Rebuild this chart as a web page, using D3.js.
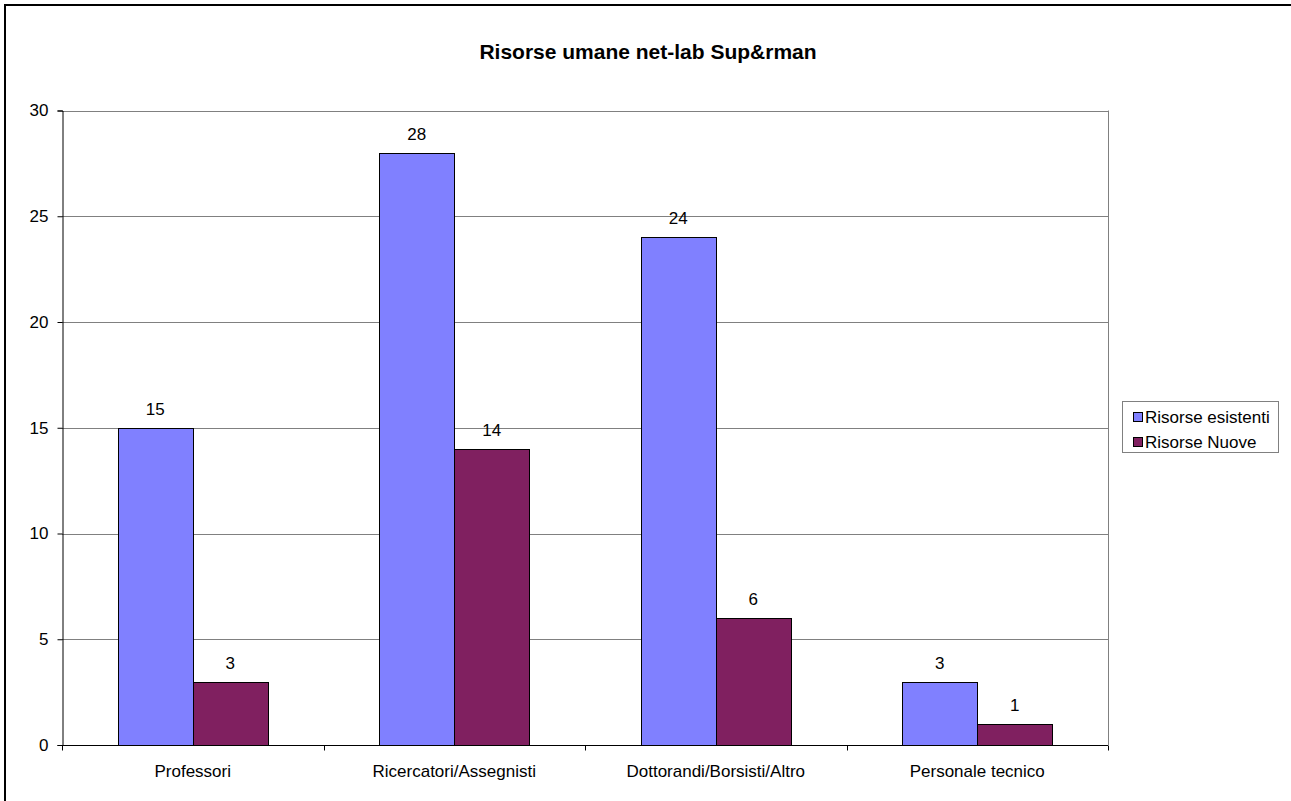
<!DOCTYPE html>
<html><head><meta charset="utf-8">
<script src="https://cdn.jsdelivr.net/npm/d3@7"></script>
<style>body{margin:0;background:#fff}svg{display:block;font-family:"Liberation Sans",Arial,sans-serif}</style>
</head><body>
<svg id="c" width="1291" height="801"></svg>
<script>
const categories = ["Professori","Ricercatori/Assegnisti","Dottorandi/Borsisti/Altro","Personale tecnico"];
const seriesNames = ["Risorse esistenti","Risorse Nuove"];
const esistenti = [15,28,24,3];
const nuove = [3,14,6,1];
const yTicks = [0,5,10,15,20,25,30];
const colors = ["#8080FF","#802060"];
const title = "Risorse umane net-lab Sup&rman";

const svg = d3.select("#c");
const FS = 17;
svg.append("rect").attr("x",5).attr("y",5).attr("width",1300).attr("height",820)
  .attr("fill","none").attr("stroke","#000").attr("stroke-width",2);

const L=62,R=1108,T=110.5,B=745;
const x = d3.scaleBand().domain(categories).range([L,R]);
const y = d3.scaleLinear().domain([0,30]).range([B,T]);
const bw = 75;
const off = (x.bandwidth()-2*bw)/2;

svg.append("g").selectAll("line").data(yTicks.filter(d=>d>0)).join("line")
  .attr("x1",L).attr("x2",R).attr("y1",d=>Math.round(y(d))+0.5).attr("y2",d=>Math.round(y(d))+0.5)
  .attr("stroke","#808080").attr("stroke-width",1);
svg.append("line").attr("x1",R+0.5).attr("x2",R+0.5).attr("y1",T).attr("y2",B).attr("stroke","#808080");

svg.append("text").attr("x",648).attr("y",59).attr("text-anchor","middle")
  .attr("font-size",21).attr("font-weight","bold").text(title);

const data = categories.map((c,i)=>({c,vals:[esistenti[i],nuove[i]]}));
const g = svg.append("g");
data.forEach(d=>{
  d.vals.forEach((v,j)=>{
    const bx = x(d.c)+off+j*bw;
    g.append("rect").attr("x",Math.round(bx)+0.5).attr("y",Math.round(y(v))+0.5)
      .attr("width",bw).attr("height",Math.round(B)-Math.round(y(v)))
      .attr("fill",colors[j]).attr("stroke","#000").attr("stroke-width",1);
    g.append("text").attr("x",bx+bw/2).attr("y",y(v)-13).attr("text-anchor","middle")
      .attr("font-size",FS).text(v);
  });
});

const ya = svg.append("g").attr("transform",`translate(${L+0.5},0)`)
  .call(d3.axisLeft(y).tickValues(yTicks).tickSize(5).tickPadding(9));
ya.select(".domain").attr("stroke","#000");
ya.selectAll("text").attr("font-size",FS).attr("font-family","Liberation Sans, Arial, sans-serif").attr("fill","#000");

const xa = svg.append("g").attr("transform",`translate(0,${B+0.5})`);
xa.append("line").attr("x1",L).attr("x2",R).attr("stroke","#000");
const bounds = [...categories.map(c=>x(c)), R];
xa.selectAll("line.t").data(bounds).join("line").attr("class","t")
  .attr("x1",d=>Math.round(d)+0.5).attr("x2",d=>Math.round(d)+0.5).attr("y1",0).attr("y2",5).attr("stroke","#000");
xa.selectAll("text").data(categories).join("text")
  .attr("x",d=>x(d)+x.bandwidth()/2).attr("y",31).attr("text-anchor","middle")
  .attr("font-size",FS).text(d=>d);

const lg = svg.append("g");
lg.append("rect").attr("x",1122.5).attr("y",401.5).attr("width",156).attr("height",51)
  .attr("fill","#fff").attr("stroke","#808080");
seriesNames.forEach((s,i)=>{
  const cy = 417+i*25;
  lg.append("rect").attr("x",1133.5).attr("y",cy-4.5).attr("width",9).attr("height",9)
    .attr("fill",colors[i]).attr("stroke","#000");
  lg.append("text").attr("x",1145).attr("y",cy+6).attr("font-size",FS).text(s);
});
</script>
</body></html>
